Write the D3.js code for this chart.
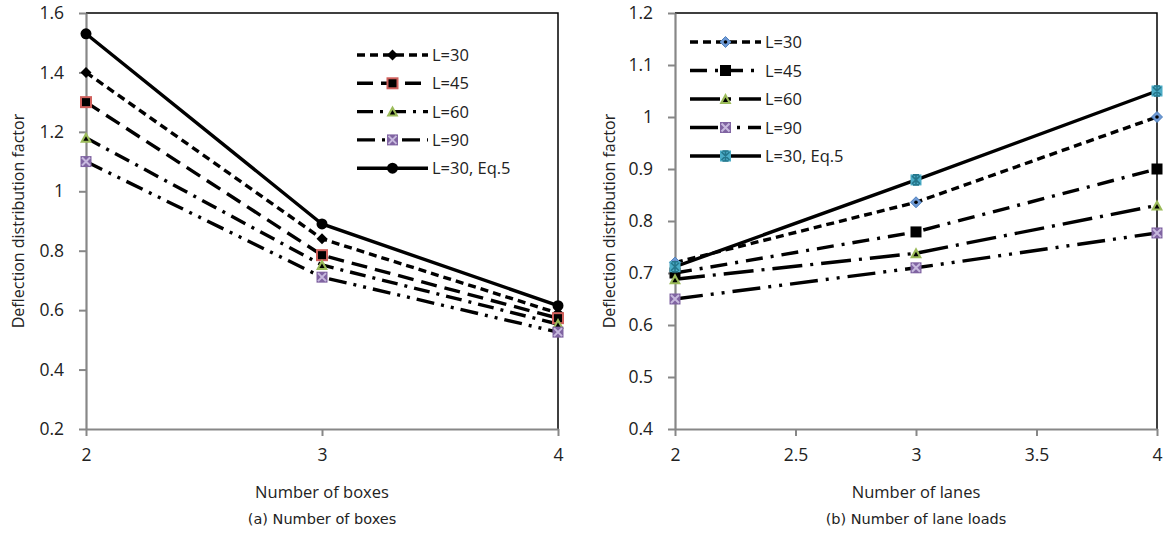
<!DOCTYPE html>
<html>
<head>
<meta charset="utf-8">
<script src="https://cdn.jsdelivr.net/npm/d3@7"></script>
<style>
  body { margin: 0; background: #fff; }
  svg text { font-family: "Open Sans", Lato, sans-serif; fill: #222; }
  .caption { font-family: "DejaVu Sans", sans-serif; }
</style>
</head>
<body>
<svg id="chart" width="1166" height="540"></svg>
<script>
// data
var seriesNames = ["L=30", "L=45", "L=60", "L=90", "L=30, Eq.5"];

var boxes = [2, 3, 4];
var boxesL30 = [1.40, 0.84, 0.59];
var boxesL45 = [1.30, 0.785, 0.573];
var boxesL60 = [1.18, 0.752, 0.553];
var boxesL90 = [1.10, 0.711, 0.526];
var boxesEq5 = [1.53, 0.89, 0.615];
var boxesTicksX = [2, 3, 4];
var boxesTicksY = [0.2, 0.4, 0.6, 0.8, 1, 1.2, 1.4, 1.6];

var lanes = [2, 3, 4];
var lanesL30 = [0.72, 0.836, 1.00];
var lanesL45 = [0.70, 0.779, 0.90];
var lanesL60 = [0.688, 0.738, 0.83];
var lanesL90 = [0.65, 0.71, 0.777];
var lanesEq5 = [0.712, 0.879, 1.05];
var lanesTicksX = [2, 2.5, 3, 3.5, 4];
var lanesTicksY = [0.4, 0.5, 0.6, 0.7, 0.8, 0.9, 1, 1.1, 1.2];

var svg = d3.select("#chart");

// marker painters
function marker(g, type) {
    if (type == "diamondBlack") {
        g.append("path").attr("d", "M0,-5.5L5.5,0L0,5.5L-5.5,0Z").attr("fill", "#000");
    } else if (type == "diamondBlue") {
        g.append("path").attr("d", "M0,-5.5L5.5,0L0,5.5L-5.5,0Z").attr("fill", "#6f9ad6").attr("stroke", "#4f81bd").attr("stroke-width", 1);
        g.append("circle").attr("r", 1.8).attr("fill", "#000");
    } else if (type == "squareRed") {
        g.append("rect").attr("x", -5).attr("y", -5).attr("width", 10).attr("height", 10)
            .attr("fill", "#000").attr("stroke", "#d0605c").attr("stroke-width", 2);
    } else if (type == "squareBlack") {
        g.append("rect").attr("x", -5.5).attr("y", -5.5).attr("width", 11).attr("height", 11).attr("fill", "#000");
    } else if (type == "triangle") {
        g.append("path").attr("d", "M0,-6L6,5L-6,5Z").attr("fill", "#9bbb59");
        g.append("path").attr("d", "M0,-1.5L2.6,3L-2.6,3Z").attr("fill", "#000");
    } else if (type == "xbox") {
        g.append("rect").attr("x", -5.5).attr("y", -5.5).attr("width", 11).attr("height", 11).attr("fill", "#8064a2");
        g.append("path").attr("d", "M-4,-4L4,4M4,-4L-4,4").attr("stroke", "#c7b9de").attr("stroke-width", 2);
    } else if (type == "circle") {
        g.append("circle").attr("r", 5.5).attr("fill", "#000");
    } else if (type == "star") {
        g.append("rect").attr("x", -5.5).attr("y", -5.5).attr("width", 11).attr("height", 11).attr("fill", "#4bacc6");
        g.append("path").attr("d", "M-4,-4L4,4M4,-4L-4,4M0,-5L0,5M-3,-5L3,-5M-3,5L3,5").attr("stroke", "#25768b").attr("stroke-width", 1.6);
    }
}

function drawPanel(p) {
    var x = d3.scaleLinear().domain(p.xDomain).range([p.left, p.right]);
    var y = d3.scaleLinear().domain(p.yDomain).range([429, 13]);

    // frame: black top / right
    svg.append("path")
        .attr("d", "M" + x.range()[0] + "," + y.range()[1] + "H" + x.range()[1] + "V" + y.range()[0])
        .attr("fill", "none").attr("stroke", "#000").attr("stroke-width", 1.5);

    var gx = svg.append("g")
        .attr("transform", "translate(0,429)")
        .call(d3.axisBottom(x).tickValues(p.ticksX).tickSize(7).tickPadding(13).tickSizeOuter(0).tickFormat(d3.format("")));
    var gy = svg.append("g")
        .attr("transform", "translate(" + p.left + ",0)")
        .call(d3.axisLeft(y).tickValues(p.ticksY).tickSize(7).tickPadding(15).tickSizeOuter(0).tickFormat(d3.format("")));
    [gx, gy].forEach(function (g) {
        g.select(".domain").attr("stroke", "#878787").attr("stroke-width", 2.2);
        g.selectAll(".tick line").attr("stroke", "#878787").attr("stroke-width", 2);
        g.selectAll(".tick text").attr("font-size", 17.5).attr("fill", "#222")
            .style("font-family", "'Open Sans', sans-serif");
    });

    var line = d3.line()
        .x(function (d) { return x(d[0]); })
        .y(function (d) { return y(d[1]); });

    p.series.forEach(function (s) {
        var pts = p.xs.map(function (v, i) { return [v, s.values[i]]; });
        svg.append("path")
            .datum(pts)
            .attr("fill", "none")
            .attr("stroke", "#000")
            .attr("stroke-width", 3.4)
            .attr("stroke-dasharray", s.dash)
            .attr("d", line);
    });
    p.series.forEach(function (s) {
        p.xs.forEach(function (v, i) {
            var g = svg.append("g").attr("transform", "translate(" + x(v) + "," + y(s.values[i]) + ")");
            marker(g, s.marker);
        });
    });

    // legend
    p.series.forEach(function (s, i) {
        var ly = p.legend.y + i * p.legend.step;
        svg.append("line")
            .attr("x1", p.legend.x).attr("x2", p.legend.x + 71)
            .attr("y1", ly).attr("y2", ly)
            .attr("stroke", "#000").attr("stroke-width", 3.4)
            .attr("stroke-dasharray", s.dash);
        var g = svg.append("g").attr("transform", "translate(" + (p.legend.x + 35.5) + "," + ly + ")");
        marker(g, s.marker);
        svg.append("text")
            .attr("x", p.legend.x + 75).attr("y", ly + 6)
            .attr("font-size", 16.5)
            .text(seriesNames[i]);
    });

    // axis titles
    svg.append("text")
        .attr("x", (p.left + p.right) / 2).attr("y", 498)
        .attr("text-anchor", "middle").attr("font-size", 16.5)
        .text(p.xTitle);
    svg.append("text")
        .attr("transform", "translate(" + p.yTitleX + ",221) rotate(-90)")
        .attr("text-anchor", "middle").attr("font-size", 16)
        .text("Deflection distribution factor");
    svg.append("text")
        .attr("class", "caption")
        .attr("x", (p.left + p.right) / 2).attr("y", 524)
        .attr("text-anchor", "middle").attr("font-size", 14.5)
        .text(p.caption);
}

drawPanel({
    left: 86, right: 558,
    xDomain: [2, 4], yDomain: [0.2, 1.6],
    ticksX: boxesTicksX, ticksY: boxesTicksY,
    xs: boxes,
    series: [
        { values: boxesL30, dash: "8,5", marker: "diamondBlack" },
        { values: boxesL45, dash: "16,8", marker: "squareRed" },
        { values: boxesL60, dash: "16,7,3,7", marker: "triangle" },
        { values: boxesL90, dash: "18,7,3,7,3,7", marker: "xbox" },
        { values: boxesEq5, dash: null, marker: "circle" }
    ],
    legend: { x: 357, y: 55, step: 28.3 },
    xTitle: "Number of boxes",
    yTitleX: 24,
    caption: "(a) Number of boxes"
});

drawPanel({
    left: 675, right: 1157,
    xDomain: [2, 4], yDomain: [0.4, 1.2],
    ticksX: lanesTicksX, ticksY: lanesTicksY,
    xs: lanes,
    series: [
        { values: lanesL30, dash: "8,5", marker: "diamondBlue" },
        { values: lanesL45, dash: "17,8,3,8", marker: "squareBlack" },
        { values: lanesL60, dash: "30,8,3,8", marker: "triangle" },
        { values: lanesL90, dash: "28,8,3,8,3,8", marker: "xbox" },
        { values: lanesEq5, dash: null, marker: "star" }
    ],
    legend: { x: 690, y: 42, step: 28.5 },
    xTitle: "Number of lanes",
    yTitleX: 615,
    caption: "(b) Number of lane loads"
});
</script>
</body>
</html>
